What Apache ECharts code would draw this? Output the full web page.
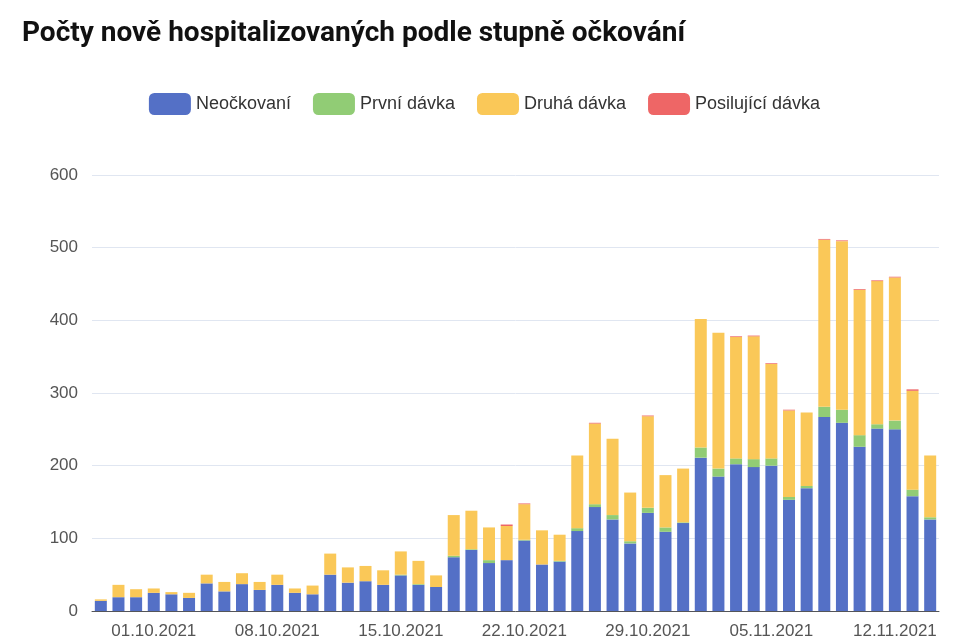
<!DOCTYPE html>
<html>
<head>
<meta charset="utf-8">
<script src="https://cdn.jsdelivr.net/npm/echarts@6/dist/echarts.min.js"></script>
<style>
  html, body { margin: 0; padding: 0; background: #fff; }
  #chart { width: 969px; height: 642px; }
</style>
</head>
<body>
<div id="chart"></div>
<script>
// dny 28.09.2021 - 14.11.2021
const days = [];
const start = new Date(2021, 8, 28);
for (let i = 0; i < 48; i++) {
    const d = new Date(start.getTime() + i * 86400000);
    days.push(String(d.getDate()).padStart(2, '0') + '.' + String(d.getMonth() + 1).padStart(2, '0') + '.' + d.getFullYear());
}

const neockovani = [14, 19, 19, 25, 23, 18, 38, 27, 37, 29, 36, 25, 23, 50, 39, 41, 36, 49, 36, 33,
    74, 84, 66, 70, 97, 64, 68, 110, 143, 126, 93, 135, 109, 121,
    211, 185, 202, 198, 200, 153, 169, 267, 259, 226, 251, 250, 158, 126];
const prvniDavka = [0, 0, 0, 0, 0, 0, 0, 0, 0, 0, 0, 0, 0, 0, 0, 0, 0, 1, 1, 0,
    2, 1, 4, 0, 1, 0, 1, 4, 4, 6, 3, 7, 6, 1,
    14, 11, 8, 11, 10, 4, 3, 14, 18, 16, 6, 12, 9, 3];
const druhaDavka = [2, 17, 11, 6, 3, 7, 12, 13, 15, 11, 14, 6, 12, 29, 21, 21, 20, 32, 32, 16,
    56, 53, 45, 47, 49, 47, 36, 100, 111, 105, 67, 126, 72, 74,
    177, 187, 167, 169, 130, 119, 101, 230, 232, 200, 197, 197, 136, 85];
const posilujici = [0, 0, 0, 0, 0, 0, 0, 0, 0, 0, 0, 0, 0, 0, 0, 0, 0, 0, 0, 0,
    0, 0, 0, 2, 1, 0, 0, 0, 1, 0, 0, 1, 0, 0,
    0, 0, 1, 1, 1, 1, 0, 1, 1, 1, 1, 1, 2, 0];

const names = ['Neočkovaní', 'První dávka', 'Druhá dávka', 'Posilující dávka'];
const values = [neockovani, prvniDavka, druhaDavka, posilujici];

let chart = echarts.init(document.getElementById('chart'));

const every7 = function (i) { return (i - 3) % 7 === 0; };

chart.setOption({
    color: ['#5470c6', '#91cc75', '#fac858', '#ee6666'],
    title: {
        text: 'Počty nově hospitalizovaných podle stupně očkování',
        left: 17,
        top: 15,
        textStyle: { fontFamily: 'Roboto', fontWeight: 'bold', fontSize: 28, color: '#111' }
    },
    legend: {
        top: 88,
        left: 'center',
        itemWidth: 42,
        itemHeight: 22,
        itemGap: 22,
        textStyle: { fontSize: 18, color: '#333', fontFamily: 'Liberation Sans' }
    },
    grid: { left: 92, right: 30, top: 175, bottom: 31 },
    xAxis: {
        type: 'category',
        data: days,
        axisTick: { interval: every7, length: 6 },
        axisLabel: { interval: every7, fontSize: 17, color: '#555', margin: 12, fontFamily: 'Liberation Sans' }
    },
    yAxis: {
        type: 'value',
        min: 0,
        max: 600,
        interval: 100,
        axisLabel: { fontSize: 17, color: '#555', margin: 14, fontFamily: 'Liberation Sans' },
        splitLine: { lineStyle: { color: '#e0e6f1' } }
    },
    series: names.map(function (n, k) {
        return { name: n, type: 'bar', stack: 'total', barWidth: '68%', data: values[k] };
    })
});
</script>
</body>
</html>
